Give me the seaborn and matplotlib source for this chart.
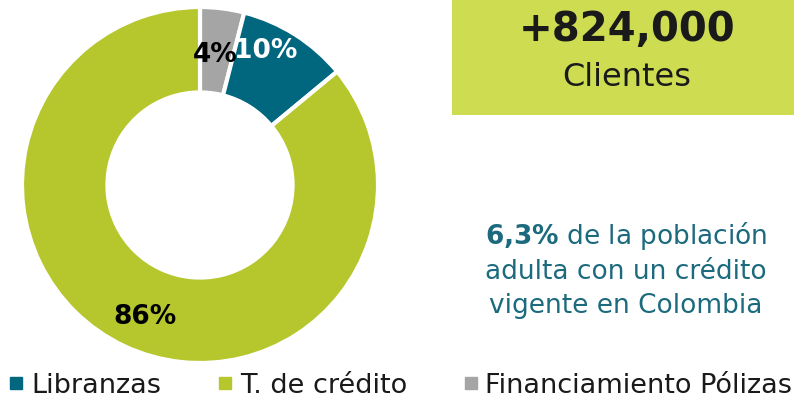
import numpy as np
import matplotlib
matplotlib.use("Agg")
import matplotlib.pyplot as plt
import seaborn as sns
from matplotlib.patches import Rectangle
from matplotlib.lines import Line2D

sns.set_style("white")
plt.rcParams['font.family'] = ['DejaVu Sans']
plt.rcParams['mathtext.fontset'] = 'dejavusans'

# data
categories = ['Libranzas', 'T. de crédito', 'Financiamiento Pólizas']
shares = [10, 86, 4]
colors = ['#00677f', '#b6c62d', '#a5a5a5']
label_colors = ['white', 'black', 'black']
# wedge order clockwise from 12 o'clock
wedge_order = [2, 0, 1]
# small angular/radial nudges for the percentage labels (deg, fraction of radius)
label_shift = {0: (-6.5, 0.84), 1: (-2.6, 0.80), 2: (-0.7, 0.74)}

fig = plt.figure(figsize=(7.94, 4.06), dpi=100)
W, H = 794, 406

# donut
ax = fig.add_axes([22 / W, (406 - 364) / H, 356 / W, 356 / H])
vals = [shares[i] for i in wedge_order]
cols = [colors[i] for i in wedge_order]
wedges, _ = ax.pie(vals, colors=cols, startangle=90, counterclock=False,
                   wedgeprops=dict(width=0.48, edgecolor='white', linewidth=3))
ax.set_xlim(-1.0, 1.0)
ax.set_ylim(-1.0, 1.0)
ax.set_aspect('equal')

total = sum(shares)
start = 90
for i in wedge_order:
    val = shares[i]
    dth, r = label_shift[i]
    mid = start - val / total * 360 / 2
    ang = np.deg2rad(mid - dth)
    ax.text(r * np.cos(ang), r * np.sin(ang), f'{val}%', ha='center', va='center',
            fontsize=19, fontweight='bold', color=label_colors[i])
    start -= val / total * 360

# green box with client count
fig.patches.append(Rectangle((452 / W, (406 - 116) / H), (794 - 452) / W, 116 / H,
                             transform=fig.transFigure, facecolor='#cedc52',
                             edgecolor='none'))
fig.text(627 / W, 1 - 30 / H, '+824,000', ha='center', va='center',
         fontsize=29, fontweight='bold', color='#1a1a1a')
fig.text(627 / W, 1 - 77 / H, 'Clientes', ha='center', va='center',
         fontsize=23, color='#1a1a1a')

# side note
teal_txt = '#1c6a7d'
fig.text(626 / W, 1 - 236 / H, r'$\mathbf{6{,}3\%}$ de la población', ha='center',
         va='center', fontsize=19, color=teal_txt)
fig.text(626 / W, 1 - 272 / H, 'adulta con un crédito', ha='center', va='center',
         fontsize=19, color=teal_txt)
fig.text(626 / W, 1 - 306 / H, 'vigente en Colombia', ha='center', va='center',
         fontsize=19, color=teal_txt)

# legend
handles = [Line2D([0], [0], marker='s', linestyle='none', markersize=8,
                  markerfacecolor=c, markeredgecolor=c) for c in colors]
fig.legend(handles, categories, loc='lower center', bbox_to_anchor=(0.505, -0.043),
           ncol=3, frameon=False, fontsize=19.5, handlelength=0.5,
           handletextpad=0.3, columnspacing=2.1, labelcolor='#1a1a1a')

fig.savefig('out.png', dpi=100, facecolor='white')
